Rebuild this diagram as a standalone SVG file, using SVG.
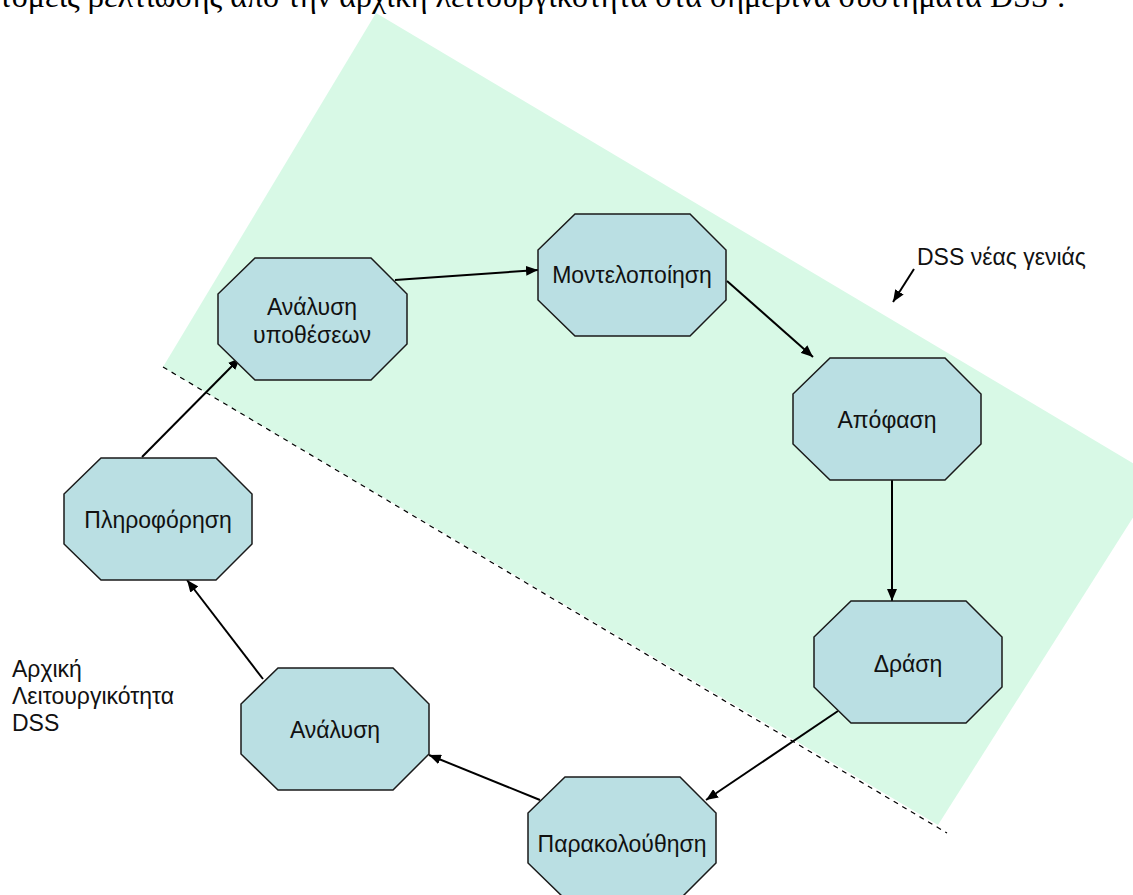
<svg xmlns="http://www.w3.org/2000/svg" width="1133" height="895" viewBox="0 0 1133 895">
<style>
.node polygon{fill:#badfe3;stroke:#1a1a1a;stroke-width:1.5}
.lbl{font-family:"Liberation Sans",Arial,sans-serif;font-size:23px;fill:#111;text-anchor:middle}
.free{font-family:"Liberation Sans",Arial,sans-serif;font-size:23px;fill:#111}
.conn line{stroke:#000;stroke-width:2;marker-end:url(#ah)}
.title{font-family:"Liberation Serif","Times New Roman",serif;font-size:32px;fill:#000}
</style>
<defs>
<marker id="ah" viewBox="0 0 12 10" refX="12" refY="5" markerWidth="12" markerHeight="10" markerUnits="userSpaceOnUse" orient="auto">
<path d="M0,0 L12,5 L0,10 Z" fill="#000"/>
</marker>
</defs>
<rect width="1133" height="895" fill="#fff"/>
<text class="title" x="-1" y="7">τομείς βελτίωσης από την αρχική λειτουργικότητα στα σημερινά συστήματα DSS :</text>
<g id="region">
<polygon points="376,13 1158,478 938,825 163,367" fill="#d8f9e6"/>
<line x1="163" y1="367" x2="947" y2="833" stroke="#000" stroke-width="1.2" stroke-dasharray="5,5"/>
</g>
<g id="conns" class="conn">
<line x1="395" y1="280" x2="538" y2="270"/>
<line x1="727" y1="281" x2="813" y2="357"/>
<line x1="892" y1="479" x2="892" y2="601"/>
<line x1="838" y1="711" x2="706" y2="800"/>
<line x1="540" y1="800" x2="429" y2="755"/>
<line x1="263" y1="679" x2="187" y2="580"/>
<line x1="142" y1="457" x2="240" y2="358"/>
<line x1="914" y1="269" x2="893" y2="302"/>
</g>
<g id="n-analysi-ypotheseon" class="node"><polygon points="255,258 371,258 407,294 407,344 371,380 255,380 218,344 218,294"/><text class="lbl" x="312" y="315">Ανάλυση</text><text class="lbl" x="312" y="343">υποθέσεων</text></g>
<g id="n-montelopoiisi" class="node"><polygon points="575,214 690,214 726,250 726,300 690,336 575,336 538,300 538,250"/><text class="lbl" x="632" y="283">Μοντελοποίηση</text></g>
<g id="n-apofasi" class="node"><polygon points="830,358 945,358 981,394 981,444 945,480 830,480 793,444 793,394"/><text class="lbl" x="887" y="428">Απόφαση</text></g>
<g id="n-drasi" class="node"><polygon points="851,601 966,601 1002,637 1002,687 966,723 851,723 814,687 814,637"/><text class="lbl" x="908" y="672">Δράση</text></g>
<g id="n-parakolouthisi" class="node"><polygon points="565,777 680,777 716,813 716,863 680,899 565,899 528,863 528,813"/><text class="lbl" x="622" y="852">Παρακολούθηση</text></g>
<g id="n-analysi" class="node"><polygon points="278,668 393,668 429,704 429,754 393,790 278,790 241,754 241,704"/><text class="lbl" x="335" y="738">Ανάλυση</text></g>
<g id="n-pliroforisi" class="node"><polygon points="101,458 216,458 252,494 252,544 216,580 101,580 64,544 64,494"/><text class="lbl" x="158" y="528">Πληροφόρηση</text></g>
<g id="lbl-dss-new"><text class="free" x="917" y="265">DSS νέας γενιάς</text></g>
<g id="lbl-arxiki"><text class="free" x="12" y="677">Αρχική</text><text class="free" x="12" y="704">Λειτουργικότητα</text><text class="free" x="12" y="731">DSS</text></g>
</svg>
